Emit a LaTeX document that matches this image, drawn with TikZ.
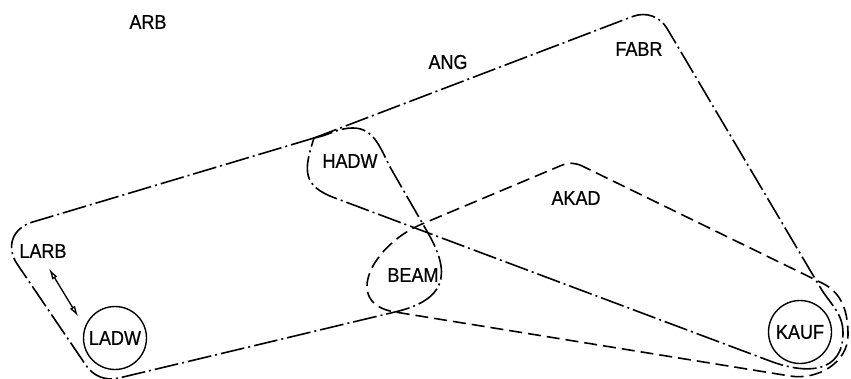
\documentclass[tikz,border=0pt]{standalone}
\usepackage{fontspec}
\setmainfont{Liberation Sans}[FakeStretch = 0.9, FakeBold = 0.6]
\usetikzlibrary{arrows.meta}
\begin{document}
\begin{tikzpicture}[x = 1pt, y = -1pt, lbl/.style = {font = \fontsize{20}{22}\selectfont, inner sep = 0pt}, main/.style = {draw, circle, line width = 1.4pt, minimum size = 63pt, inner sep = 0pt, font = \fontsize{20}{22}\selectfont}, dashdot/.style = {line width = 1.6pt, dash pattern = on 24pt off 4pt on 2pt off 4pt}, dashes/.style = {line width = 1.6pt, dash pattern = on 13pt off 6pt}, dbl/.style = {{Latex[open, length = 11pt, width = 6pt]}-{Latex[open, length = 11pt, width = 6pt]}, line width = 1.3pt}]
			\useasboundingbox (0,0) rectangle (851,378);
			\node[lbl] (arb) at (148,22) {ARB};
			\node[lbl] (ang) at (448,62) {ANG};
			\node[lbl] (fabr) at (639,49) {FABR};
			\node[lbl] (akad) at (576,198) {AKAD};
			\node[lbl] (hadw) at (350,161) {HADW};
			\node[lbl] (beam) at (413,275) {BEAM};
			\node[lbl] (larb) at (43,251) {LARB};
			\node[main] (ladw) at (115,338) {LADW};
			\node[main] (kauf) at (800,332) {KAUF};
			\coordinate (j) at (314,138);
			\draw[dashdot] (j) -- (632.6,16.5) to[out = 20.9, in = 120.5] (667.2,28.7) -- (820,287) to[out = -59.5, in = 90] (843,333) to[out = -90, in = -20.6, looseness = 1.3] (770,361) -- (335,198) to[out = 159.5, in = -108, looseness = 1.4] (j);
			\draw[dashdot] (j) -- (32.4,222.1) to[out = 196.6, in = 124.2, looseness = 1.2] (17.4,264.4) -- (85.6,364.8) to[out = -55.8, in = 193.4] (119.4,377.9) -- (395,312) to[out = 13.4, in = -60, looseness = 1.5] (428,233) -- (390,167) to[out = 117, in = 0] (353,128) to[out = 180, in = 10] (j);
			\draw[dashes] (582.8,166.3) to[out = 154, in = 22.8] (560.9,165.6) -- (422,224) to[out = 202.8, in = 170.9, looseness = 1.5] (395,312) -- (790,376) to[out = -9.1, in = -90] (848,335) to[out = 90, in = -26] (822,283) -- cycle;
			\draw[dbl] ([xshift = 6pt, yshift = -10.5pt]larb.south) -- ([xshift = -14pt, yshift = -1.5pt]ladw.north west);
		\end{tikzpicture}
\end{document}
